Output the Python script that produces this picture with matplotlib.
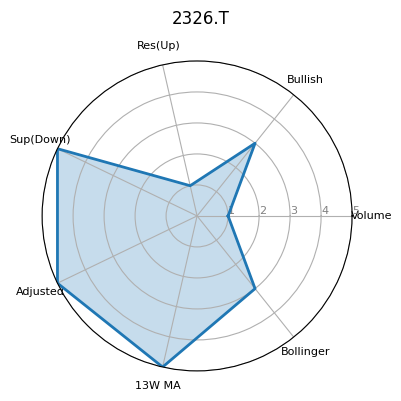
import numpy as np
import matplotlib
matplotlib.use("Agg")
import matplotlib.pyplot as plt

categories = ["Volume", "Bullish", "Res(Up)", "Sup(Down)", "Adjusted", "13W MA", "Bollinger"]
values = [1, 3, 1, 5, 5, 5, 3]
title = "2326.T"

n = len(categories)
angles = np.linspace(0, 2 * np.pi, n, endpoint=False).tolist()
vals = values + values[:1]
angs = angles + angles[:1]

fig = plt.figure(figsize=(4.01, 4.01), dpi=100)
ax = fig.add_axes([0.105, 0.075, 0.773, 0.773], polar=True)
ax.plot(angs, vals, color="#1f77b4", linewidth=2)
ax.fill(angs, vals, color="#1f77b4", alpha=0.25)
ax.set_xticks(angles)
ax.set_xticklabels(categories, fontsize=8)
ax.set_ylim(0, 5)
ax.set_yticks([1, 2, 3, 4, 5])
ax.set_yticklabels(["1", "2", "3", "4", "5"], fontsize=8, color="grey")
ax.set_rlabel_position(0)
ax.grid(True, color="#b0b0b0")
fig.suptitle(title, fontsize=12, y=0.975)
fig.savefig("out.png", dpi=100)
